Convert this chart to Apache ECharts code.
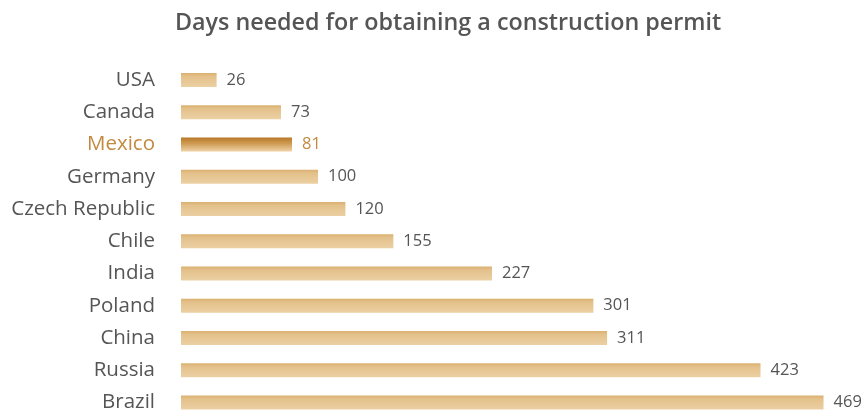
<!DOCTYPE html>
<html><head><meta charset="utf-8">
<script src="https://cdn.jsdelivr.net/npm/echarts@6/dist/echarts.min.js"></script>
<style>html,body{margin:0;padding:0;background:#fff}#c{width:866px;height:413px}</style>
</head><body><div id="c"></div>
<script>
const countries = ["USA","Canada","Mexico","Germany","Czech Republic","Chile","India","Poland","China","Russia","Brazil"];
const days = [26,73,81,100,120,155,227,301,311,423,469];
const highlight = "Mexico";

const normalColor = {type:'linear',x:0,y:0,x2:0,y2:1,colorStops:[{offset:0,color:'#dab070'},{offset:0.25,color:'#e4c18b'},{offset:1,color:'#ebd0a3'}]};
const hiColor = {type:'linear',x:0,y:0,x2:0,y2:1,colorStops:[{offset:0,color:'#b77828'},{offset:0.4,color:'#cd984f'},{offset:1,color:'#efd2a6'}]};

const chart = echarts.init(document.getElementById('c'));
chart.setOption({
  animation:false,
  title:{text:'Days needed for obtaining a construction permit',left:170,top:7,
    textStyle:{fontFamily:'Open Sans',fontSize:23.3,fontWeight:600,color:'#555'}},
  grid:{left:181,top:80,width:685,height:323,containLabel:false},
  xAxis:{type:'value',min:0,max:500,show:false},
  yAxis:{type:'category',inverse:true,boundaryGap:false,data:countries,
    axisLine:{show:false},axisTick:{show:false},splitLine:{show:false},
    axisLabel:{margin:26,fontFamily:'Open Sans',fontSize:20.5,
      color:function(v){return v===highlight?'#c28a40':'#555';}}},
  series:[{type:'bar',barWidth:14,
    data:days.map((d,i)=>({value:d,
      itemStyle:{color:countries[i]===highlight?hiColor:normalColor},
      label:{color:countries[i]===highlight?'#c28a40':'#555'}})),
    label:{show:true,position:'right',distance:10,fontFamily:'Open Sans',fontSize:16.5}
  }]
});
</script></body></html>
